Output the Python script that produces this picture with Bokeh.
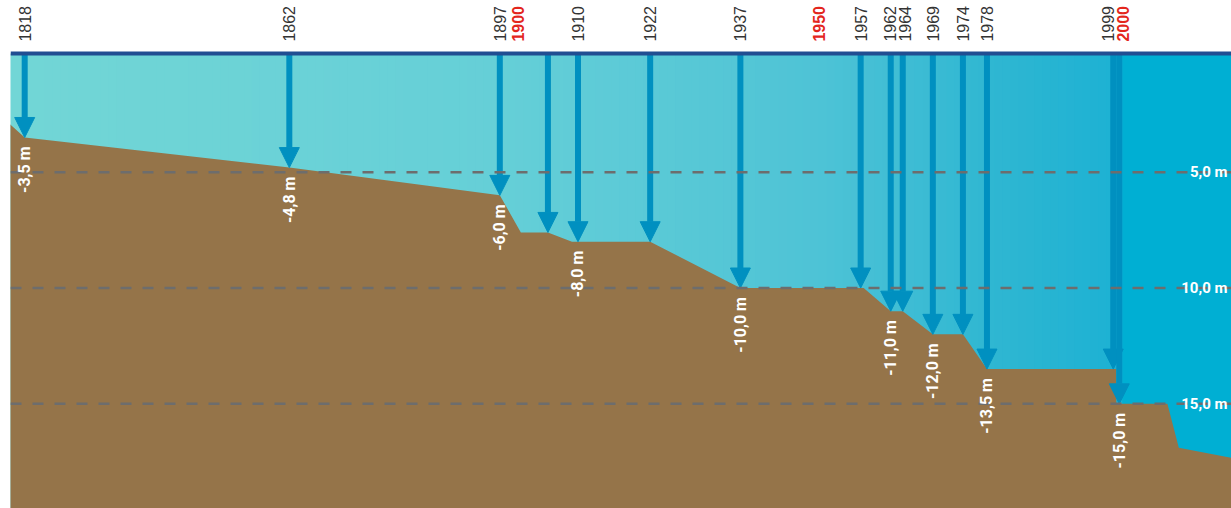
import numpy as np
from bokeh.plotting import figure
from bokeh.models import ColumnDataSource, Range1d, Arrow, NormalHead, Span, LabelSet
from bokeh.core.properties import value
from bokeh.embed import file_html
from bokeh.resources import INLINE

# ---------------- data ----------------
# measured water depth (m) at each dredging / sounding year
years = [1818, 1862, 1897, 1905, 1910, 1922, 1937, 1957, 1962, 1964, 1969, 1974, 1978, 1999, 2000]
depths = [3.5, 4.8, 6.0, 7.6, 8.0, 8.0, 10.0, 10.0, 11.0, 11.0, 12.0, 12.0, 13.5, 13.5, 15.0]
year_labels = ["1818", "1862", "1897", "", "1910", "1922", "1937", "1957",
               "1962", "1964", "1969", "1974", "1978", "1999", ""]
depth_labels = ["-3,5 m", "-4,8 m", "-6,0 m", "", "-8,0 m", "", "-10,0 m", "",
                "-11,0 m", "", "-12,0 m", "", "-13,5 m", "", "-15,0 m"]

# decade markers on the time line
decade_years = [1900, 1950, 2000]
decade_labels = ["1900", "1950", "2000"]

# reference depth lines
ref_depths = [5.0, 10.0, 15.0]
ref_labels = ["5,0 m", "10,0 m", "15,0 m"]

# river-bed profile (year, depth)
terrain_years = [1815.0, 1818, 1862, 1897, 1900.5, 1905, 1909, 1922, 1937, 1957.5,
                 1962, 1964, 1969, 1974, 1978, 1999.5, 1999.5, 2008, 2009.9, 2020]
terrain_depths = [2.8, 3.5, 4.8, 6.0, 7.6, 7.6, 8.0, 8.0, 10.0, 10.0,
                  11.0, 11.0, 12.0, 12.0, 13.5, 13.5, 15.0, 15.0, 16.9, 17.4]

# ---------------- layout / style ----------------
X0, X1 = 1815.64, 2018.66
Y0, Y1 = -19.52, 2.414
ARROW = "#0090c0"
BROWN = "#957449"

p = figure(width=1231, height=508, x_range=Range1d(X0, X1), y_range=Range1d(Y0, Y1),
           output_backend="svg", toolbar_location=None,
           x_axis_location=None, y_axis_location=None,
           min_border_left=10, min_border_right=0, min_border_top=0, min_border_bottom=0)
p.grid.visible = False
p.outline_line_color = None
p.background_fill_color = "white"
p.border_fill_color = "white"

# water with a left-to-right colour gradient
stops_x = [X0, 1897, 1950, 1978, 2000.5]
stops_c = np.array([(114, 214, 214), (101, 207, 215), (78, 195, 214), (48, 183, 210), (28, 177, 211)])
edges = np.linspace(X0 - 1, 2000.5, 141)
mids = (edges[:-1] + edges[1:]) / 2
cols = []
for m in mids:
    rgb = [int(round(np.interp(m, stops_x, stops_c[:, k]))) for k in range(3)]
    cols.append("#%02x%02x%02x" % tuple(rgb))
lefts = list(edges[:-1]) + [2000.5]
rights = list(edges[1:] + 0.4) + [X1 + 2]
cols.append("#00afd3")
p.quad(left=lefts, right=rights, top=0.13, bottom=-25, fill_color=cols, line_color=None)

# river bed
tx = terrain_years + [terrain_years[-1], terrain_years[0]]
ty = [-d for d in terrain_depths] + [-25, -25]
p.patch(tx, ty, fill_color=BROWN, line_color=None)

# arrows from surface to measured depth
asrc = ColumnDataSource(dict(x=years, y0=[0.1] * len(years), y1=[-d for d in depths]))
p.add_layout(Arrow(end=NormalHead(size=20, fill_color=ARROW, line_color=ARROW, line_width=1),
                   x_start="x", y_start="y0", x_end="x", y_end="y1", source=asrc,
                   line_color=ARROW, line_width=6))

# water surface
p.add_layout(Span(location=0.13, dimension="width", line_color="#214e92", line_width=4))

# dashed reference lines
for d in ref_depths:
    p.add_layout(Span(location=-d, dimension="width", line_color="#6d6d6d",
                      line_width=2.5, line_dash="11 11"))

# depth value labels under arrow tips
vsrc = ColumnDataSource(dict(x=years, y=[-d for d in depths], t=depth_labels))
p.add_layout(LabelSet(x="x", y="y", text="t", source=vsrc, angle=np.pi / 2,
                      y_offset=-9, text_align="right", text_baseline="middle",
                      text_color="white", text_font=value("Roboto"),
                      text_font_style="bold", text_font_size="16px"))

# reference line labels on the right
rsrc = ColumnDataSource(dict(x=[X1] * len(ref_depths), y=[-d for d in ref_depths], t=ref_labels))
p.add_layout(LabelSet(x="x", y="y", text="t", source=rsrc, x_offset=-4,
                      text_align="right", text_baseline="middle",
                      text_color="white", text_font=value("Roboto"),
                      text_font_style="bold", text_font_size="15px"))

# year labels at the top
nudge = {"1962": -1, "1964": 2, "1999": -5, "2000": 4}
ysrc = ColumnDataSource(dict(x=years, y=[0.64] * len(years), t=year_labels,
                             dx=[nudge.get(t, 0) for t in year_labels]))
p.add_layout(LabelSet(x="x", y="y", text="t", source=ysrc, angle=np.pi / 2, x_offset="dx",
                      text_align="left", text_baseline="middle",
                      text_color="#333333", text_font=value("Liberation Sans"),
                      text_font_size="16px"))
dsrc = ColumnDataSource(dict(x=decade_years, y=[0.64] * len(decade_years), t=decade_labels,
                             dx=[nudge.get(t, 0) for t in decade_labels]))
p.add_layout(LabelSet(x="x", y="y", text="t", source=dsrc, angle=np.pi / 2, x_offset="dx",
                      text_align="left", text_baseline="middle",
                      text_color="#e3261d", text_font=value("Liberation Sans"),
                      text_font_style="bold", text_font_size="16px"))

open("out.html", "w").write(file_html(p, INLINE))
